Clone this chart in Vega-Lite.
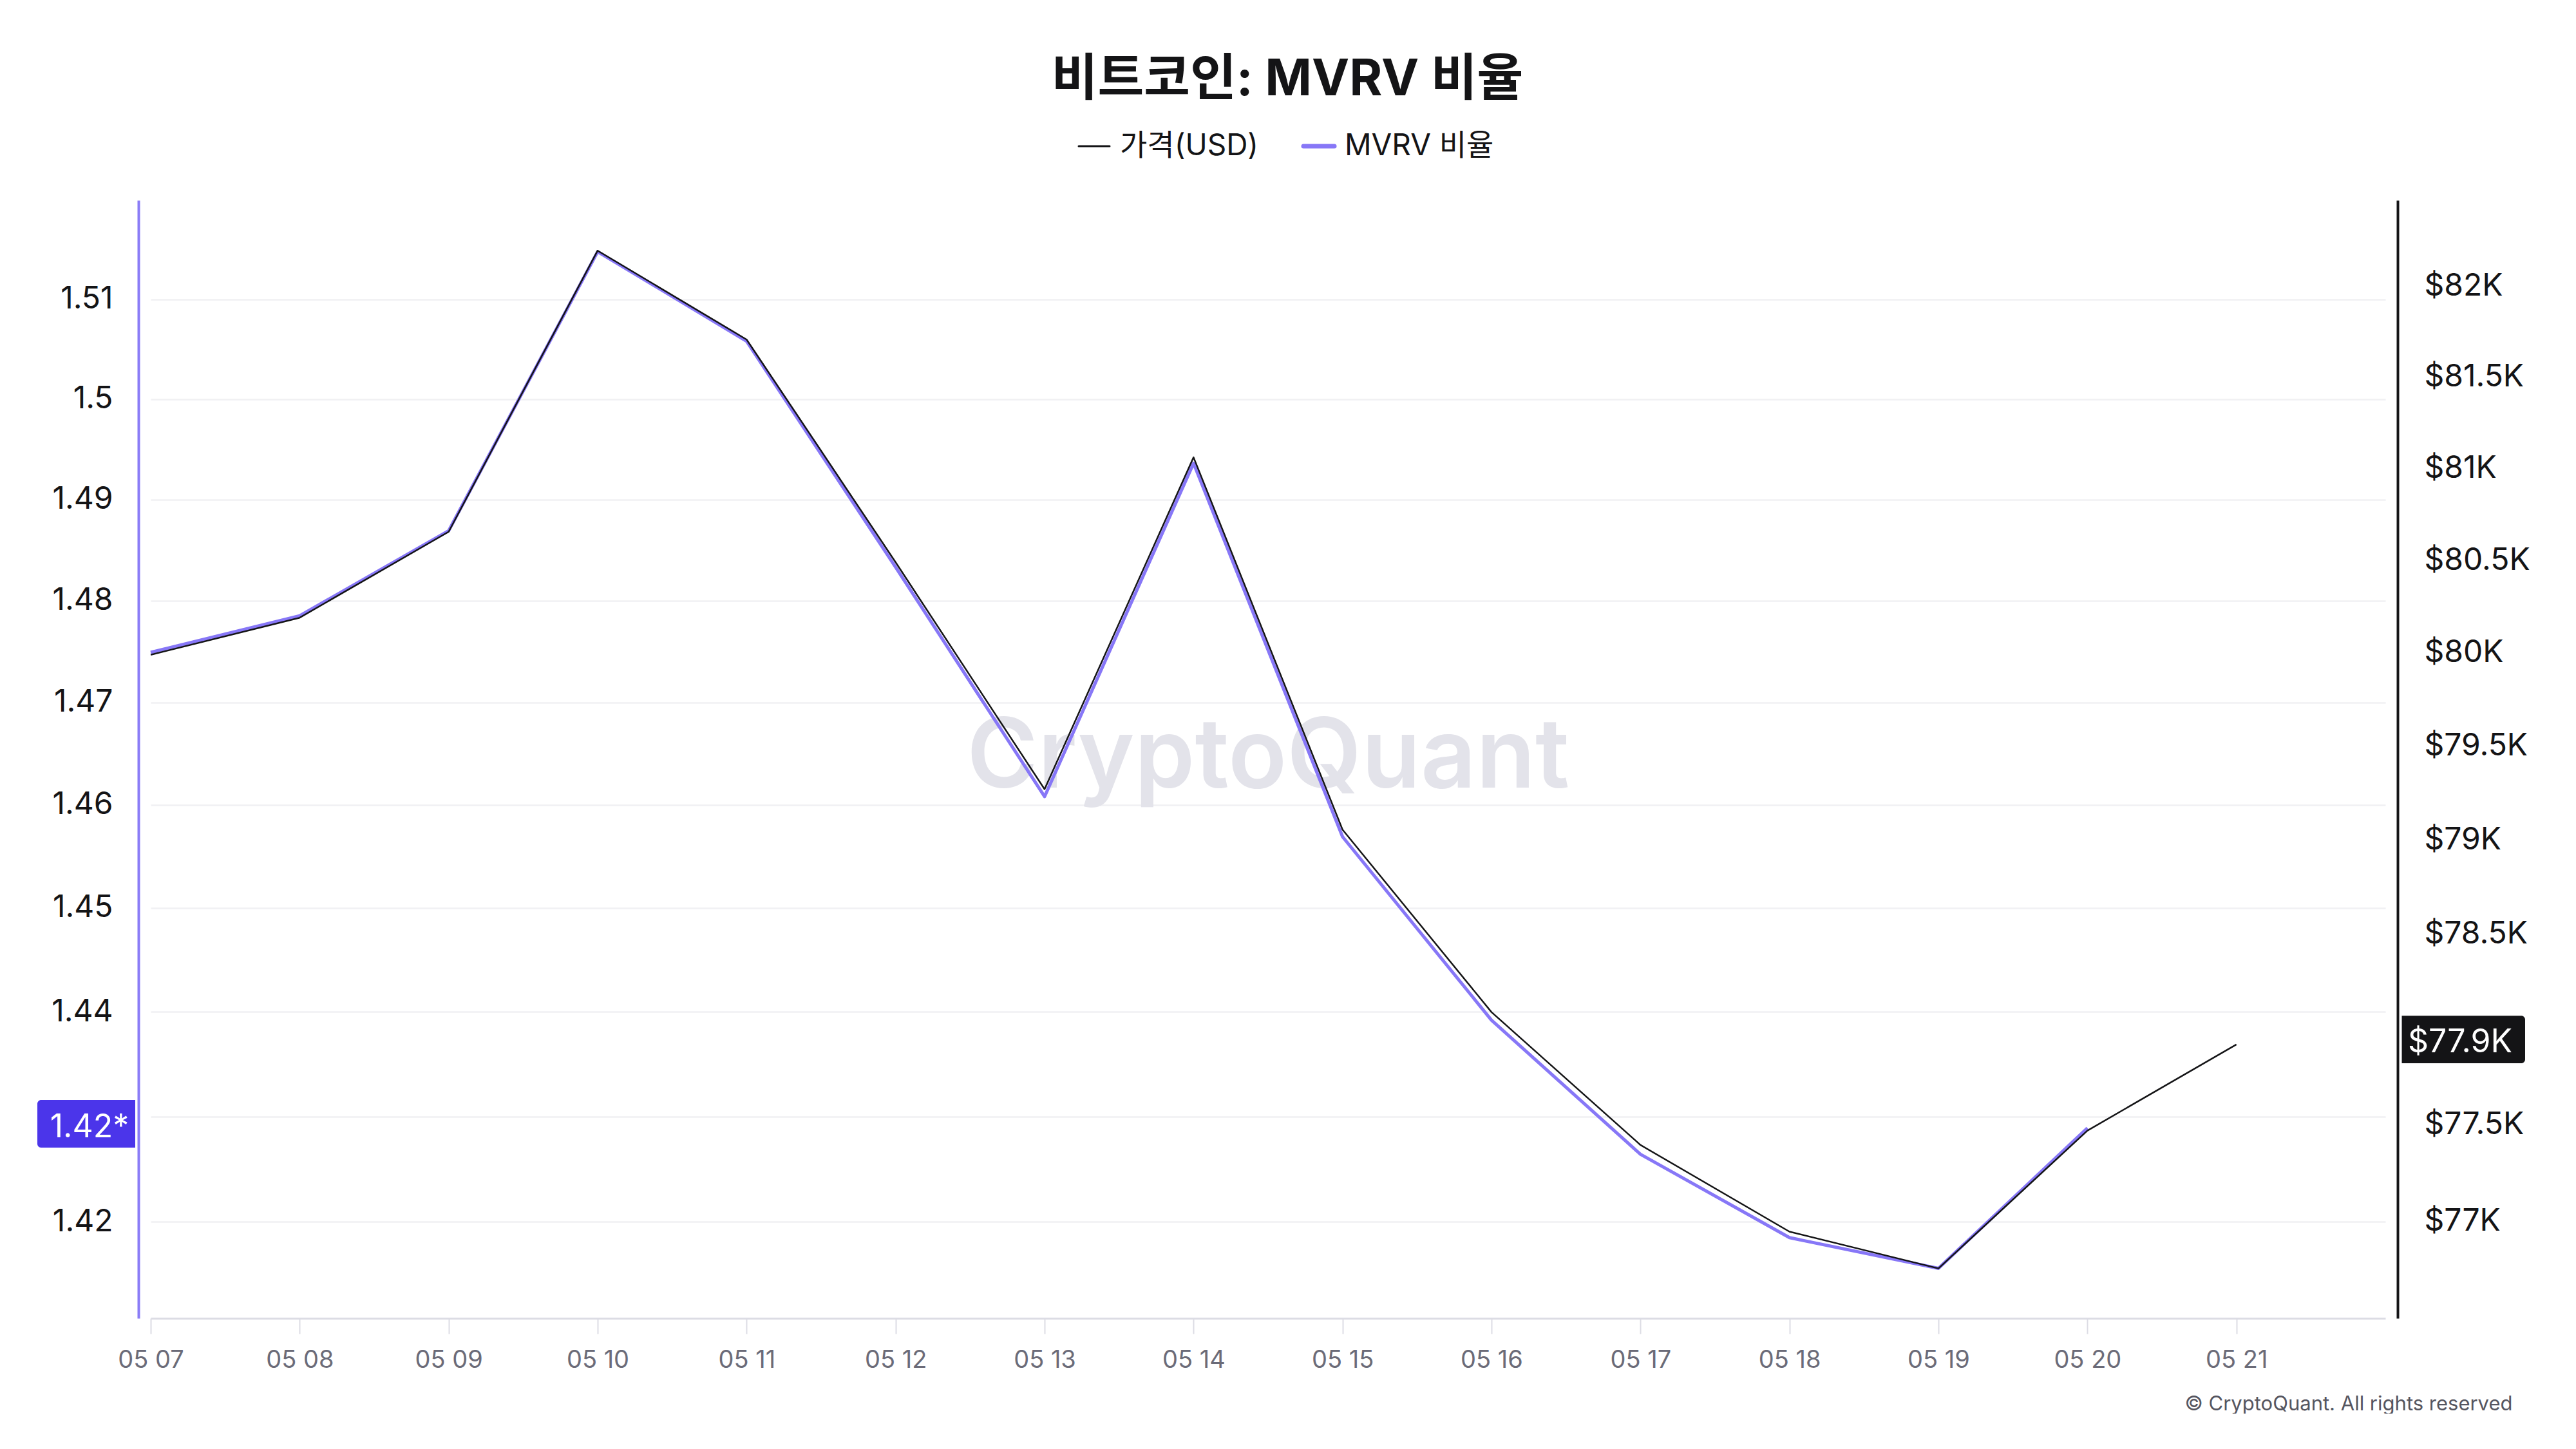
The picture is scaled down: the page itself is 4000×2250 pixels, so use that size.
{
  "$schema": "https://vega.github.io/schema/vega-lite/v6.json",
  "width": 3470,
  "height": 1736,
  "padding": {"left": 57, "top": 86, "right": 0, "bottom": 0},
  "background": "#ffffff",
  "config": {
    "view": {"stroke": null},
    "font": "Inter, Noto Sans CJK KR"
  },
  "title": {
    "text": "비트코인: MVRV 비율",
    "font": "Inter, Noto Sans CJK KR",
    "fontSize": 78,
    "fontWeight": "bold",
    "color": "#141416",
    "anchor": "middle",
    "dx": 30,
    "offset": 40
  },
  "data": {
    "values": [
      {"date": "2025-05-07T00:00:00Z", "price": 79990, "mvrv": 1.4749},
      {"date": "2025-05-08T00:00:00Z", "price": 80190, "mvrv": 1.4785},
      {"date": "2025-05-09T00:00:00Z", "price": 80655, "mvrv": 1.4869},
      {"date": "2025-05-10T00:00:00Z", "price": 82195, "mvrv": 1.5148},
      {"date": "2025-05-11T00:00:00Z", "price": 81705, "mvrv": 1.5058},
      {"date": "2025-05-12T00:00:00Z", "price": 80490, "mvrv": 1.4833},
      {"date": "2025-05-13T00:00:00Z", "price": 79270, "mvrv": 1.4608},
      {"date": "2025-05-14T00:00:00Z", "price": 81060, "mvrv": 1.4936},
      {"date": "2025-05-15T00:00:00Z", "price": 79055, "mvrv": 1.4569},
      {"date": "2025-05-16T00:00:00Z", "price": 78090, "mvrv": 1.4392},
      {"date": "2025-05-17T00:00:00Z", "price": 77395, "mvrv": 1.4264},
      {"date": "2025-05-18T00:00:00Z", "price": 76945, "mvrv": 1.4185},
      {"date": "2025-05-19T00:00:00Z", "price": 76755, "mvrv": 1.4156},
      {"date": "2025-05-20T00:00:00Z", "price": 77470, "mvrv": 1.4289},
      {"date": "2025-05-21T00:00:00Z", "price": 77920, "mvrv": null}
    ]
  },
  "layer": [
    {
      "layer": [
        {
          "data": {"values": [{"label": "CryptoQuant"}]},
          "mark": {
            "type": "text",
            "font": "Inter",
            "fontSize": 150,
            "fontWeight": 600,
            "color": "#E3E3EA",
            "align": "center",
            "baseline": "alphabetic"
          },
          "encoding": {
            "x": {"datum": 1747224000000, "type": "temporal"},
            "y": {"datum": 1.4617, "type": "quantitative"},
            "text": {"field": "label", "type": "nominal"}
          }
        },
        {
          "mark": {"type": "line", "strokeWidth": 5, "strokeJoin": "round"},
          "encoding": {
            "x": {
              "field": "date",
              "type": "temporal",
              "scale": {"type": "utc", "domain": [1746576000000, 1747872000000]},
              "axis": {
                "values": [1746576000000, 1746662400000, 1746748800000, 1746835200000, 1746921600000, 1747008000000, 1747094400000, 1747180800000, 1747267200000, 1747353600000, 1747440000000, 1747526400000, 1747612800000, 1747699200000, 1747785600000],
                "labelExpr": "utcFormat(datum.value, '%m %d')",
                "grid": false,
                "labelFont": "Inter",
                "labelFontSize": 38,
                "labelColor": "#6B6B78",
                "labelFlush": false,
                "labelOverlap": false,
                "labelPadding": 22,
                "domainColor": "#DCDCE4",
                "domainWidth": 3,
                "tickColor": "#DCDCE4",
                "tickWidth": 2,
                "tickSize": 24,
                "title": "© CryptoQuant. All rights reserved",
                "titleFont": "Inter",
                "titleFontSize": 31,
                "titleFontWeight": "normal",
                "titleColor": "#55555F",
                "titleAnchor": "end",
                "titleAlign": "right",
                "titleBaseline": "middle",
                "titleX": 3667,
                "titleY": 133
              }
            },
            "y": {
              "field": "mvrv",
              "type": "quantitative",
              "scale": {"type": "log", "domain": [1.4109, 1.52], "nice": false, "zero": false},
              "axis": {
                "orient": "left",
                "offset": 19,
                "values": [1.42, 1.43, 1.44, 1.45, 1.46, 1.47, 1.48, 1.49, 1.5, 1.51],
                "labelExpr": "abs(datum.value - 1.43) < 0.001 ? '' : format(datum.value, '.3~g')",
                "labelFont": "Inter",
                "labelFontSize": 48,
                "labelColor": "#141416",
                "labelPadding": 40,
                "labelOverlap": false,
                "ticks": false,
                "tickSize": 0,
                "domainColor": "#8A7CF7",
                "domainWidth": 4,
                "grid": true,
                "gridColor": "#F0F0F3",
                "gridWidth": 2.5,
                "title": null
              }
            },
            "color": {
              "datum": "MVRV 비율",
              "type": "nominal",
              "scale": {"domain": ["가격(USD)", "MVRV 비율"], "range": ["#141416", "#8777F7"]},
              "legend": {
                "orient": "none",
                "legendX": 1442,
                "legendY": -107,
                "direction": "horizontal",
                "title": null,
                "symbolType": "stroke",
                "symbolSize": 2304,
                "symbolStrokeWidth": 3,
                "labelFont": "Inter, Noto Sans CJK KR",
                "labelFontSize": 46,
                "labelColor": "#141416",
                "labelLimit": 0,
                "labelOffset": 17,
                "columnPadding": 55,
                "encode": {
                  "symbols": {
                    "update": {
                      "strokeWidth": {"signal": "datum.value == 'MVRV 비율' ? 7 : 3"},
                      "strokeCap": {"value": "round"}
                    }
                  }
                }
              }
            }
          }
        },
        {
          "data": {"values": [{"label": "1.42*"}]},
          "mark": {"type": "rect", "color": "#4B35EA", "cornerRadiusTopLeft": 6, "cornerRadiusBottomLeft": 6},
          "encoding": {
            "x": {"datum": 1746510258000, "type": "temporal"},
            "x2": {"datum": 1746567032000},
            "y": {"datum": 1.42703, "type": "quantitative"},
            "y2": {"datum": 1.43157}
          }
        },
        {
          "data": {"values": [{"label": "1.42*"}]},
          "mark": {
            "type": "text",
            "font": "Inter",
            "fontSize": 50,
            "color": "#ffffff",
            "align": "center",
            "baseline": "alphabetic"
          },
          "encoding": {
            "x": {"datum": 1746540516000, "type": "temporal"},
            "y": {"datum": 1.428, "type": "quantitative"},
            "text": {"field": "label", "type": "nominal"}
          }
        }
      ]
    },
    {
      "layer": [
        {
          "mark": {"type": "line", "strokeWidth": 2.5, "strokeJoin": "round"},
          "encoding": {
            "x": {"field": "date", "type": "temporal"},
            "y": {
              "field": "price",
              "type": "quantitative",
              "scale": {"type": "log", "domain": [76498, 82474], "nice": false, "zero": false},
              "axis": {
                "orient": "right",
                "offset": 19,
                "values": [77000, 77500, 78000, 78500, 79000, 79500, 80000, 80500, 81000, 81500, 82000],
                "labelExpr": "abs(datum.value - 78000) < 1 ? '' : '$' + format(datum.value / 1000, '~g') + 'K'",
                "labelFont": "Inter",
                "labelFontSize": 48,
                "labelColor": "#141416",
                "labelPadding": 41,
                "labelOverlap": false,
                "ticks": false,
                "tickSize": 0,
                "domainColor": "#141416",
                "domainWidth": 4,
                "grid": false,
                "title": null
              }
            },
            "color": {"datum": "가격(USD)", "type": "nominal"}
          }
        },
        {
          "data": {"values": [{"label": "$77.9K"}]},
          "mark": {"type": "rect", "color": "#141416", "cornerRadiusTopRight": 6, "cornerRadiusBottomRight": 6},
          "encoding": {
            "x": {"datum": 1747881530000, "type": "temporal"},
            "x2": {"datum": 1747953043000},
            "y": {"datum": 77822, "type": "quantitative"},
            "y2": {"datum": 78071}
          }
        },
        {
          "data": {"values": [{"label": "$77.9K"}]},
          "mark": {
            "type": "text",
            "font": "Inter",
            "fontSize": 50,
            "color": "#ffffff",
            "align": "center",
            "baseline": "alphabetic"
          },
          "encoding": {
            "x": {"datum": 1747915330000, "type": "temporal"},
            "y": {"datum": 77879, "type": "quantitative"},
            "text": {"field": "label", "type": "nominal"}
          }
        }
      ]
    }
  ],
  "resolve": {"scale": {"y": "independent"}}
}
